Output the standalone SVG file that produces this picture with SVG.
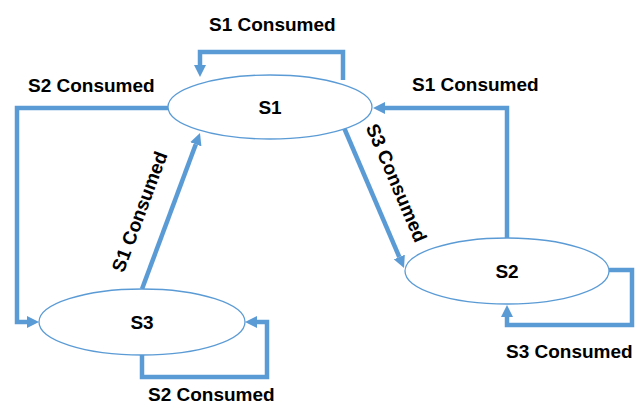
<svg xmlns="http://www.w3.org/2000/svg" width="641" height="406" viewBox="0 0 641 406">
  <style>
    .state { fill: #ffffff; stroke: #5b9bd5; stroke-width: 1.3; }
    .edge { fill: none; stroke: #5b9bd5; stroke-width: 4.5; stroke-linejoin: miter; marker-end: url(#arrow); }
    .name { font-family: "Liberation Sans", Arial, sans-serif; font-weight: bold; font-size: 19px; fill: #000; text-anchor: middle; }
    .lbl { font-family: "Liberation Sans", Arial, sans-serif; font-weight: bold; font-size: 19px; fill: #000; }
  </style>
  <defs>
    <marker id="arrow" markerUnits="userSpaceOnUse" markerWidth="12" markerHeight="12" refX="0" refY="6" orient="auto">
      <path d="M0,0 L12,6 L0,12 z" fill="#5b9bd5"/>
    </marker>
  </defs>
  <rect width="641" height="406" fill="#ffffff"/>

  <!-- transitions -->
  <g id="connectors">
    <path class="edge" d="M343,80 V52 H200 V65"/>
    <path class="edge" d="M168,108 H17 V322 H27"/>
    <path class="edge" d="M142,289 L195.8,144.3"/>
    <path class="edge" d="M342,123 L399.3,257"/>
    <path class="edge" d="M507,238 V108 H385"/>
    <path class="edge" d="M608,270 H632 V325 H507 V317"/>
    <path class="edge" d="M142,355 V377 H267 V322 H257"/>

    <text class="lbl" x="209" y="31">S1 Consumed</text>
    <text class="lbl" x="28" y="92">S2 Consumed</text>
    <text class="lbl" x="412" y="91">S1 Consumed</text>
    <text class="lbl" x="506" y="358">S3 Consumed</text>
    <text class="lbl" x="148" y="401">S2 Consumed</text>
    <text class="name" transform="translate(140,212) rotate(-69.6)" y="6">S1 Consumed</text>
    <text class="name" transform="translate(396,183) rotate(66.8)" y="6">S3 Consumed</text>
  </g>

  <g id="S1">
    <ellipse class="state" cx="270" cy="107" rx="102" ry="32"/>
    <text class="name" x="270" y="114">S1</text>
  </g>
  <g id="S2">
    <ellipse class="state" cx="507" cy="271" rx="102" ry="33"/>
    <text class="name" x="507" y="278">S2</text>
  </g>
  <g id="S3">
    <ellipse class="state" cx="142" cy="322" rx="103" ry="33"/>
    <text class="name" x="142" y="329">S3</text>
  </g>
</svg>
